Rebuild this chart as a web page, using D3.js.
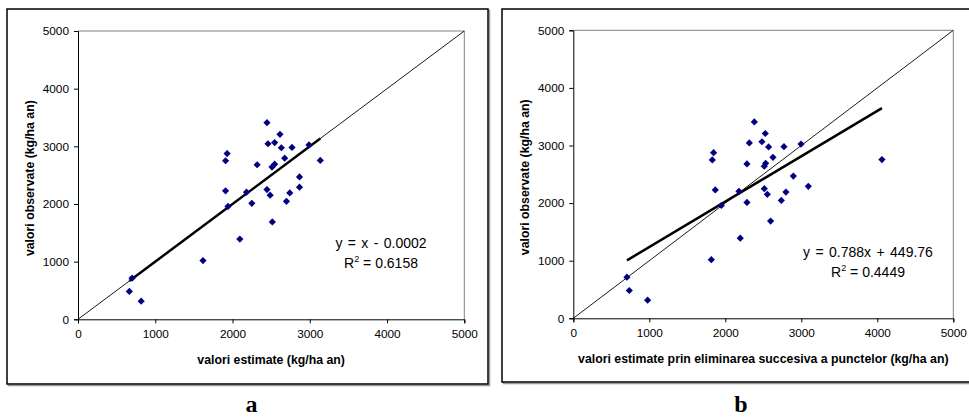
<!DOCTYPE html>
<html>
<head>
<meta charset="utf-8">
<script src="https://cdn.jsdelivr.net/npm/d3@7"></script>
<style>
  body { margin: 0; background: #fff; }
  svg { display: block; font-family: "Liberation Sans", Arial, sans-serif; }
</style>
</head>
<body>
<svg id="chart" width="969" height="417"></svg>
<script>
// observed values (shared by both panels)
const observed = [3410, 3208, 3065, 3045, 3025, 2975, 2980, 2875, 2795, 2755, 2750,
  2690, 2680, 2640, 2470, 2292, 2250, 2228, 2205, 2192, 2152, 2046, 2012, 1958,
  1688, 1391, 1018, 714, 483, 315];
// panel a: estimated values
const estimatedA = [2446, 2614, 2545, 2459, 2990, 2632, 2770, 1930, 2675, 3136, 1910,
  2545, 2319, 2511, 2867, 2867, 2446, 1910, 2181, 2741, 2487, 2698, 2250, 1941,
  2515, 2095, 1618, 700, 664, 818];
// panel b: estimated by successive elimination
const estimatedB = [2382, 2526, 2482, 2316, 2996, 2570, 2772, 1846, 2627, 4061, 1829,
  2531, 2285, 2513, 2895, 3092, 2513, 1868, 2180, 2798, 2553, 2737, 2285, 1947,
  2596, 2197, 1816, 706, 737, 978];

const ticks = [0, 1000, 2000, 3000, 4000, 5000];
const fitA = { slope: 1, intercept: -0.0002, eq: 'y = x - 0.0002', r2: '0.6158' };
const fitB = { slope: 0.788, intercept: 449.76, eq: 'y = 0.788x + 449.76', r2: '0.4449' };

const svg = d3.select('#chart');

function drawPanel(opt) {
  const { box, plot, xs, fit, xTitle, letter, eqPos } = opt;
  const g = svg.append('g');

  // outer frame
  g.append('rect')
    .attr('x', box.x + 1.5).attr('y', box.y + 1.5)
    .attr('width', box.w).attr('height', box.h)
    .attr('fill', 'none').attr('stroke', '#999').attr('stroke-width', 1.5);
  g.append('rect')
    .attr('x', box.x).attr('y', box.y)
    .attr('width', box.w).attr('height', box.h)
    .attr('fill', '#fff').attr('stroke', '#000').attr('stroke-width', 1.5);

  const x = d3.scaleLinear().domain([0, 5000]).range([plot.x0, plot.x1]);
  const y = d3.scaleLinear().domain([0, 5000]).range([plot.y0, plot.y1]);

  // top / right plot border (gray)
  g.append('path')
    .attr('d', `M${x(0)},${y(5000)}H${x(5000)}V${y(0)}`)
    .attr('fill', 'none').attr('stroke', '#808080').attr('stroke-width', 1);

  const xAxis = g.append('g')
    .attr('transform', `translate(0,${y(0)})`)
    .call(d3.axisBottom(x).tickValues(ticks).tickSize(4).tickPadding(6).tickFormat(d3.format('d')));
  const yAxis = g.append('g')
    .attr('transform', `translate(${x(0)},0)`)
    .call(d3.axisLeft(y).tickValues(ticks).tickSize(4).tickPadding(5).tickFormat(d3.format('d')));
  [xAxis, yAxis].forEach(a => {
    a.select('.domain').attr('stroke', '#000');
    a.selectAll('text').attr('font-size', 11.8).attr('fill', '#000')
      .attr('font-family', '"Liberation Sans", Arial, sans-serif');
  });

  // 1:1 line
  g.append('line')
    .attr('x1', x(0)).attr('y1', y(0)).attr('x2', x(5000)).attr('y2', y(5000))
    .attr('stroke', '#000').attr('stroke-width', 0.9);

  // trend line
  const [lo, hi] = d3.extent(xs);
  g.append('line')
    .attr('x1', x(lo)).attr('y1', y(fit.slope * lo + fit.intercept))
    .attr('x2', x(hi)).attr('y2', y(fit.slope * hi + fit.intercept))
    .attr('stroke', '#000').attr('stroke-width', 2.5);

  // points
  g.append('g').selectAll('path')
    .data(xs.map((v, i) => [v, observed[i]]))
    .join('path')
    .attr('d', 'M0,-3.6L3.6,0L0,3.6L-3.6,0Z')
    .attr('transform', d => `translate(${x(d[0])},${y(d[1])})`)
    .attr('fill', '#000080');

  // equation
  const eq = g.append('text')
    .attr('x', eqPos[0]).attr('y', eqPos[1])
    .attr('text-anchor', 'middle').attr('font-size', 14)
    .attr('word-spacing', 1.5);
  eq.append('tspan').text(fit.eq);
  const r = g.append('text')
    .attr('x', eqPos[0]).attr('y', eqPos[1] + 20)
    .attr('text-anchor', 'middle').attr('font-size', 14);
  r.append('tspan').text('R');
  r.append('tspan').attr('dy', -6).attr('font-size', 9).text('2');
  r.append('tspan').attr('dy', 6).text(' = ' + fit.r2);

  // axis titles
  g.append('text')
    .attr('x', (plot.x0 + plot.x1) / 2).attr('y', plot.y0 + 45)
    .attr('text-anchor', 'middle').attr('font-size', 12.3).attr('font-weight', 'bold')
    .text(xTitle);
  g.append('text')
    .attr('transform', `translate(${plot.x0 - 44},${(plot.y0 + plot.y1) / 2 + 3}) rotate(-90)`)
    .attr('text-anchor', 'middle').attr('font-size', 12.3).attr('font-weight', 'bold')
    .text('valori observate (kg/ha an)');

  // panel letter
  g.append('text')
    .attr('x', (box.x + box.x + box.w) / 2 + 4).attr('y', 412)
    .attr('text-anchor', 'middle').attr('font-size', 24).attr('font-weight', 'bold')
    .attr('font-family', '"Liberation Serif", "Times New Roman", serif')
    .text(letter);
}

drawPanel({
  box: { x: 7, y: 9, w: 481, h: 375 },
  plot: { x0: 78, x1: 464.3, y0: 319.3, y1: 31 },
  xs: estimatedA, fit: fitA,
  xTitle: 'valori estimate (kg/ha an)', letter: 'a',
  eqPos: [381, 248]
});

drawPanel({
  box: { x: 502, y: 9, w: 470, h: 373 },
  plot: { x0: 573.3, x1: 953.3, y0: 318.3, y1: 30.3 },
  xs: estimatedB, fit: fitB,
  xTitle: 'valori estimate prin eliminarea succesiva a punctelor (kg/ha an)', letter: 'b',
  eqPos: [868, 257]
});
</script>
</body>
</html>
